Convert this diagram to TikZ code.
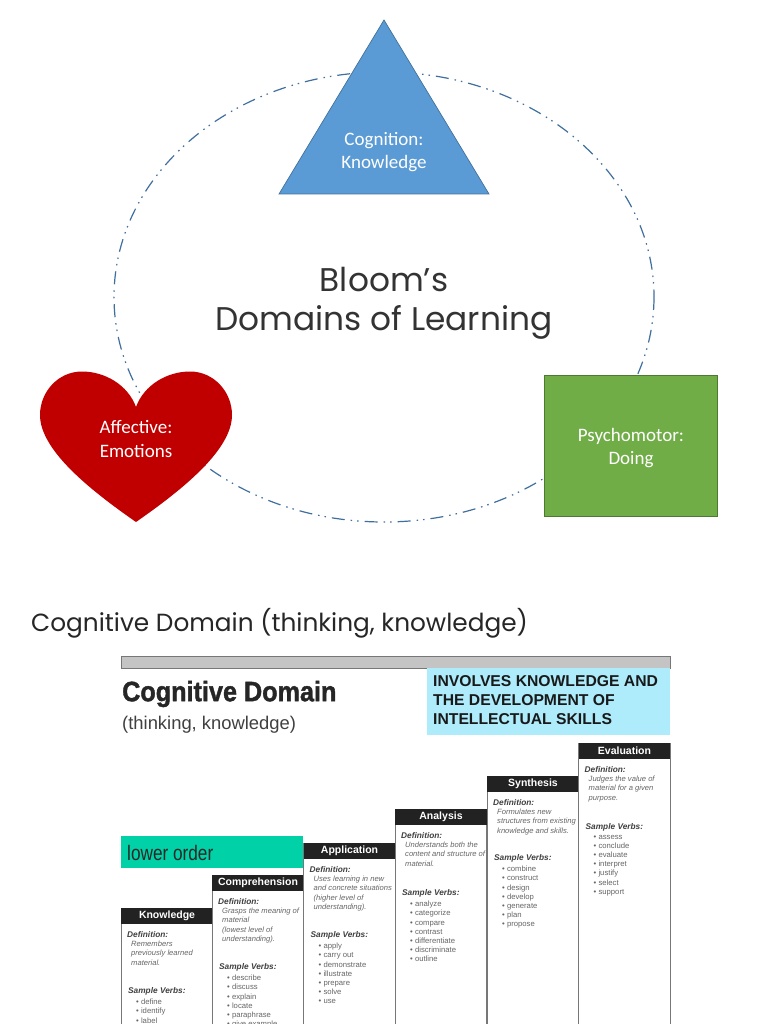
\documentclass[tikz,border=0pt]{standalone}
\usepackage{fontspec}
\setmainfont{Liberation Sans}
\newfontfamily\labelfont{Carlito}
\newfontfamily\titlefont{Poppins}
\newfontfamily\heavyfont[FakeBold=1.5]{Liberation Sans Bold}
\usetikzlibrary{arrows.meta}
\definecolor{cogblue}{HTML}{5B9BD5}
\definecolor{cogedge}{HTML}{41719C}
\definecolor{affred}{HTML}{C00000}
\definecolor{psygreen}{HTML}{70AD47}
\definecolor{ringblue}{HTML}{3F6F9F}
\definecolor{barblack}{HTML}{222222}
\definecolor{colgray}{HTML}{777777}
\definecolor{txtgray}{HTML}{666666}
\definecolor{lowteal}{HTML}{00D1A7}
\definecolor{skillcyan}{HTML}{AEEBFB}
\definecolor{bargray}{HTML}{C4C4C4}

\begin{document}
\begin{tikzpicture}[x=1pt,y=-1pt,
    domainlabel/.style={white,align=center,font=\labelfont\fontsize{19}{23.5}\selectfont},
    bigtitle/.style={black!80,font=\titlefont\fontsize{32.8}{40}\selectfont},
    colhead/.style={white,font=\bfseries\fontsize{10.5}{12}\selectfont},
    defhead/.style={anchor=west,inner sep=0pt,black!75,font=\bfseries\itshape\fontsize{8.3}{9}\selectfont},
    deftext/.style={anchor=north west,inner sep=0pt,align=left,txtgray,font=\itshape\fontsize{7.6}{9.2}\selectfont},
    verbtext/.style={anchor=north west,inner sep=0pt,align=left,txtgray,font=\fontsize{7.7}{9.15}\selectfont}]

  \clip (0,0) rectangle (768,1024);
  \fill[white] (0,0) rectangle (768,1024);

  % =====================================================================
  % TOP PANEL
  % =====================================================================
  \draw[ringblue,line width=1.2pt,dash pattern=on 13pt off 6pt on 1.5pt off 5pt on 1.5pt off 6pt]
        (384,297) ellipse (270 and 225);

  % cognition triangle
  \draw[cogedge,fill=cogblue,line width=0.7pt]
        (384,20) -- (489,194) -- (279,194) -- cycle;
  \node[domainlabel] (cognition) at (384,152) {Cognition:\\Knowledge};

  % affective heart
  \fill[affred] (136,407)
        .. controls (128,385) and (105,371.5) .. (82,371.5)
        .. controls (58,371.5) and (40,392) .. (40,415)
        .. controls (40,450) and (90,490) .. (136,522)
        .. controls (182,490) and (232,450) .. (232,415)
        .. controls (232,392) and (214,371.5) .. (190,371.5)
        .. controls (167,371.5) and (144,385) .. (136,407) -- cycle;
  \node[domainlabel] (affective) at (136,439) {Affective:\\Emotions};

  % psychomotor square
  \draw[fill=psygreen,draw=psygreen!70!black,line width=0.7pt] (544,375) rectangle (717,516);
  \node[domainlabel] (psychomotor) at (631,448) {Psychomotor:\\Doing};

  % panel title
  \node[bigtitle] (bloom) at (384,280) {Bloom’s};
  \node[bigtitle] (domains) at (384,322) {Domains of Learning};

  % =====================================================================
  % BOTTOM PANEL
  % =====================================================================
  \node[anchor=west,inner sep=0pt,black!85,font=\titlefont\fontsize{24.8}{28}\selectfont] (cogtitle) at (31,623)
        {Cognitive Domain (thinking, knowledge)};

  % top bar
  \draw[colgray,fill=bargray,line width=1pt] (121,656) rectangle (670,668);

  % heading
  \node[anchor=west,inner sep=0pt,black!85,font=\heavyfont\fontsize{28}{30}\selectfont] (coghead) at (122,694)
        {\scalebox{0.9}[1]{Cognitive Domain}};
  \node[anchor=west,inner sep=0pt,black!75,font=\fontsize{18.4}{20}\selectfont] (thinking) at (122,725)
        {(thinking, knowledge)};

  % skills box
  \fill[skillcyan] (427,668) rectangle (670,735);
  \node[anchor=north west,inner sep=0pt,align=left,black!90,font=\bfseries\fontsize{15.7}{19}\selectfont] (skills) at (433,675)
        {INVOLVES KNOWLEDGE AND\\THE DEVELOPMENT OF\\INTELLECTUAL SKILLS};

  % lower order box
  \fill[lowteal] (121,836) rectangle (303,868);
  \node[anchor=west,inner sep=0pt,black!85,font=\fontsize{21}{22}\selectfont] (lower) at (127,853)
        {\scalebox{0.82}[1]{lower order}};

  % steps: x left / header top / sample line / title / definition / verbs
  \foreach \nm/\xa/\yh/\ys/\ttl/\dfn/\vrb in {
      know/121/908/991/Knowledge/{Remembers\\previously learned\\material.}/{• define\\• identify\\• label},
      comp/212/875/967/Comprehension/{Grasps the meaning of\\material\\(lowest level of\\understanding).}/{• describe\\• discuss\\• explain\\• locate\\• paraphrase\\• give example},
      appl/303.5/843/935/Application/{Uses learning in new\\and concrete situations\\(higher level of\\understanding).}/{• apply\\• carry out\\• demonstrate\\• illustrate\\• prepare\\• solve\\• use},
      anal/395/809/893/Analysis/{Understands both the\\content and structure of\\material.}/{• analyze\\• categorize\\• compare\\• contrast\\• differentiate\\• discriminate\\• outline},
      synt/487/776/858/Synthesis/{Formulates new\\structures from existing\\knowledge and skills.}/{• combine\\• construct\\• design\\• develop\\• generate\\• plan\\• propose},
      eval/578.5/743/827/Evaluation/{Judges the value of\\material for a given\\purpose.}/{• assess\\• conclude\\• evaluate\\• interpret\\• justify\\• select\\• support}} {
    \draw[colgray,line width=1pt] (\xa,\yh) rectangle (\xa+91.5,1040);
    \fill[barblack] (\xa,\yh) rectangle (\xa+91.5,\yh+16);
    \node[colhead] (\nm head) at (\xa+46,\yh+8) {\ttl};
    \node[defhead] (\nm def) at (\xa+6,\yh+27) {Definition:};
    \node[deftext] (\nm text) at (\xa+10,\yh+33) {\dfn};
    \node[defhead] (\nm sample) at (\xa+7,\ys) {Sample Verbs:};
    \node[verbtext] (\nm verbs) at (\xa+15,\ys+8) {\vrb};
  }

\end{tikzpicture}
\end{document}
